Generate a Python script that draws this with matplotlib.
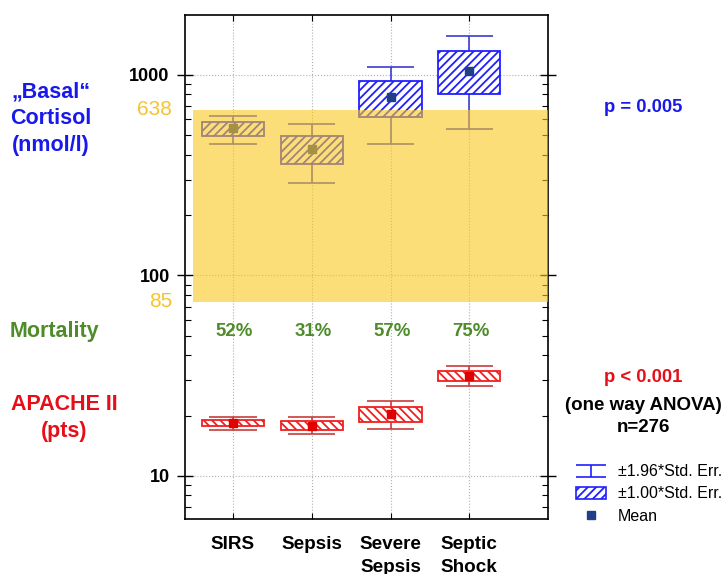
import numpy as np
import matplotlib
matplotlib.use('Agg')
import matplotlib.pyplot as plt
import matplotlib.transforms as mtransforms
from matplotlib.path import Path
from matplotlib.lines import Line2D
from matplotlib.patches import Patch
from matplotlib.ticker import LogLocator, NullFormatter

plt.rcParams['font.family'] = ['Liberation Sans', 'DejaVu Sans']
plt.rcParams['font.weight'] = 'bold'
plt.rcParams['hatch.linewidth'] = 1.3

groups = ['SIRS', 'Sepsis', 'Severe\nSepsis', 'Septic\nShock']
mortality = ['52%', '31%', '57%', '75%']

# basal cortisol (nmol/l): mean, +-1 SE box, +-1.96 SE whiskers
cort_mean = [544, 428, 777, 1047]
cort_se_lo = [496, 360, 617, 804]
cort_se_hi = [583, 496, 933, 1317]
cort_ci_lo = [453, 289, 453, 538]
cort_ci_hi = [625, 570, 1096, 1565]

# APACHE II (pts)
apache_mean = [18.4, 17.8, 20.4, 31.6]
apache_se_lo = [17.7, 17.0, 18.6, 29.7]
apache_se_hi = [19.0, 18.9, 22.1, 33.5]
apache_ci_lo = [17.0, 16.1, 17.1, 28.0]
apache_ci_hi = [19.7, 19.7, 23.7, 35.4]

# normal range band for cortisol
band_lo, band_hi = 74, 670
band_lo_label, band_hi_label = '85', '638'

blue = '#1919eb'
red = '#e60f19'
green = '#4e8c2a'
yellow_txt = '#f4c430'

fig = plt.figure(figsize=(7.23, 5.74), dpi=100)
ax = fig.add_axes([185/723, 1 - 519/574, 363/723, 504/574])
x = np.arange(len(groups))


def draw_boxes(mean, se_lo, se_hi, ci_lo, ci_hi, edge, whisk, hatch, mcolor):
    se_lo = np.array(se_lo)
    se_hi = np.array(se_hi)
    ax.vlines(x, ci_lo, ci_hi, color=whisk, lw=1.2, zorder=2)
    ax.hlines(ci_lo, x - 0.3, x + 0.3, color=whisk, lw=1.2, zorder=2)
    ax.hlines(ci_hi, x - 0.3, x + 0.3, color=whisk, lw=1.2, zorder=2)
    ax.bar(x, se_hi - se_lo, bottom=se_lo, width=0.79, facecolor='white',
           edgecolor=edge, hatch=hatch, lw=1.3, zorder=3)
    ax.plot(x, mean, 's', color=mcolor, ms=6, zorder=4)


draw_boxes(cort_mean, cort_se_lo, cort_se_hi, cort_ci_lo, cort_ci_hi,
           '#2020ff', '#3c3cd2', '////', '#203f86')
draw_boxes(apache_mean, apache_se_lo, apache_se_hi, apache_ci_lo, apache_ci_hi,
           '#f02020', '#c83c3c', '\\\\\\\\', '#e00000')

# yellow band is semi transparent and lies over the boxes
ax.axhspan(band_lo, band_hi, xmin=0.022, xmax=1, facecolor='#fac81e',
           alpha=0.6, lw=0, zorder=5)

ax.set_yscale('log')
ax.set_ylim(6.1, 1990)
ax.set_xlim(-0.61, 4.0)
ax.set_yticks([10, 100, 1000])
ax.set_yticklabels(['10', '100', '1000'])
ax.yaxis.set_minor_locator(LogLocator(base=10, subs=np.arange(2, 10)))
ax.yaxis.set_minor_formatter(NullFormatter())
ax.set_xticks(x)
for lbl in ax.set_xticklabels(groups):
    lbl.set_linespacing(1.45)
ax.grid(True, which='major', ls=':', color='#b0b0b0', lw=0.8, zorder=0)
ax.set_axisbelow(True)

ax.tick_params(axis='y', which='major', direction='inout', length=12,
               width=1, right=True, labelsize=13, pad=5)
ax.tick_params(axis='y', which='minor', direction='in', length=4,
               width=0.8, right=True)
ax.tick_params(axis='x', direction='in', length=4, top=True,
               labelsize=13.6, pad=12)
for s in ax.spines.values():
    s.set_linewidth(1.2)

# mortality row inside the plot
trans = mtransforms.blended_transform_factory(ax.transData, ax.transAxes)
for xi, m in zip(x, mortality):
    ax.text(xi + 0.02, (519 - 332) / 504, m, transform=trans, color=green,
            fontsize=13.4, ha='center', va='center')

# band limits on the left
trans_y = mtransforms.blended_transform_factory(ax.transAxes, ax.transData)
ax.text(-13/363, band_hi, band_hi_label, transform=trans_y, color=yellow_txt,
        fontsize=15, fontweight='normal', ha='right', va='center')
ax.text(-13/363, band_lo, band_lo_label, transform=trans_y, color=yellow_txt,
        fontsize=15, fontweight='normal', ha='right', va='center')


def ftext(px, py, s, color, size=15.5, weight='bold'):
    fig.text(px / 723, 1 - py / 574, s, color=color, fontsize=size,
             ha='center', va='center', fontweight=weight)


ftext(51, 92, '\u201eBasal\u201c', blue)
ftext(51, 118, 'Cortisol', blue)
ftext(51, 145, '(nmol/l)', blue)
ftext(54, 331, 'Mortality', green)
ftext(64, 405, 'APACHE II', red)
ftext(64, 432, '(pts)', red)

ftext(643, 107, 'p = 0.005', blue, 13.3)
ftext(643, 377, 'p < 0.001', red, 13.3)
ftext(643, 405, '(one way ANOVA)', 'black', 13.5)
ftext(643, 428, 'n=276', 'black', 13.5)

# legend
cap_path = Path([(-1, 0.42), (1, 0.42), (0, 0.42), (0, -0.42), (-1, -0.42), (1, -0.42)],
                [Path.MOVETO, Path.LINETO, Path.MOVETO, Path.LINETO, Path.MOVETO, Path.LINETO])
h_ci = Line2D([], [], marker=cap_path, markersize=21, markeredgecolor='#2020ff',
              markerfacecolor='none', markeredgewidth=1.2, linestyle='none')
h_se = Patch(facecolor='white', edgecolor='#2020ff', hatch='////', lw=1.2)
h_mean = Line2D([], [], marker='s', color='#203f86', ms=6, linestyle='none')
fig.legend([h_ci, h_se, h_mean],
           ['\u00b11.96*Std. Err.', '\u00b11.00*Std. Err.', 'Mean'],
           loc='center left', bbox_to_anchor=(576/723, 1 - 494/574),
           frameon=False, prop={'size': 11.5, 'weight': 'normal'},
           handlelength=1.9, handletextpad=0.7, labelspacing=0.45,
           borderpad=0, borderaxespad=0)

fig.savefig('out.png', dpi=100)
